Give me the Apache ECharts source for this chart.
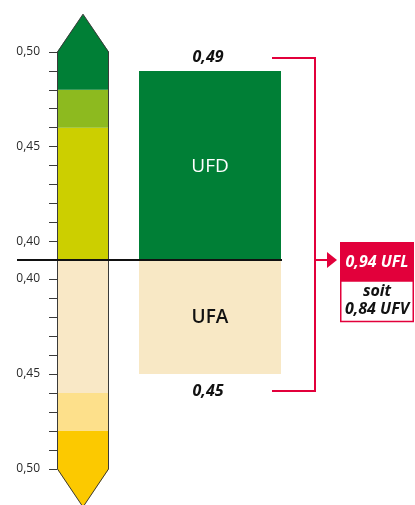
<!DOCTYPE html>
<html><head><meta charset="utf-8">
<script src="https://cdn.jsdelivr.net/npm/echarts@6/dist/echarts.min.js"></script>
<style>html,body{margin:0;padding:0;background:#fff}#c{width:415px;height:505px}</style>
</head><body><div id="c"></div>
<script>
// ---- data ----
const categories = ['Échelle', 'Apport'];
const scaleBase = 0.39;
const scaleMax = 0.50;
const arrowTip = 0.52;
const upperBands = [0.39, 0.46, 0.48, 0.50];   // UFD scale band limits
const lowerBands = [0.39, 0.46, 0.48, 0.50];   // UFA scale band limits
const tickLabelValues = [0.40, 0.45, 0.50];
const barNames = ['UFD', 'UFA'];
const ufdValue = 0.49;
const ufaValue = 0.45;
const totalUFL = 0.94;
const totalUFV = 0.84;

// ---- styles ----
const upperColors = ['#cccf00', '#8dba1f', '#007f36'];
const lowerColors = ['#f9e8c6', '#fde08b', '#fcc900'];
const ufdColor = '#007f36';
const ufaColor = '#f8e8c5';
const red = '#e2003b';
const ARROW_W = 52;
const BAR_W = 142;
const FONT = 'Open Sans';

const fmt = v => v.toFixed(2).replace('.', ',');

function bandData(levels) {
  const out = [];
  for (let i = 0; i < levels.length - 1; i++) out.push([0, levels[i], levels[i + 1], i]);
  return out;
}
function bandRender(colors, levels) {
  return function (params, api) {
    const i = api.value(3);
    const lo = api.coord([api.value(0), api.value(1)]);
    const hi = api.coord([api.value(0), api.value(2)]);
    const x0 = lo[0] - ARROW_W / 2, x1 = lo[0] + ARROW_W / 2;
    let points;
    if (i === levels.length - 2) {
      const tip = api.coord([api.value(0), arrowTip]);
      points = [[x0, lo[1]], [x0, hi[1]], [lo[0], tip[1]], [x1, hi[1]], [x1, lo[1]]];
    } else {
      points = [[x0, lo[1]], [x0, hi[1]], [x1, hi[1]], [x1, lo[1]]];
    }
    return { type: 'polygon', shape: { points }, style: { fill: colors[i], stroke: null } };
  };
}
function outlineRender(params, api) {
  const lo = api.coord([0, scaleBase]);
  const hi = api.coord([0, scaleMax]);
  const tip = api.coord([0, arrowTip]);
  const x0 = Math.round(lo[0] - ARROW_W / 2) + 0.5, x1 = Math.round(lo[0] + ARROW_W / 2) - 0.5;
  return {
    type: 'polyline',
    shape: { points: [[x0, lo[1]], [x0, hi[1]], [lo[0], tip[1]], [x1, hi[1]], [x1, lo[1]]] },
    style: { stroke: '#3a3a3a', lineWidth: 1, fill: null }, z2: 5
  };
}
function barRender(name, color, nameColor, nameWeight, up) {
  return function (params, api) {
    const b = api.coord([api.value(0), scaleBase]);
    const t = api.coord([api.value(0), api.value(1)]);
    const y0 = Math.min(b[1], t[1]), h = Math.abs(b[1] - t[1]);
    const x0 = b[0] - BAR_W / 2;
    const valueY = up ? t[1] - 13 : t[1] + 17;
    return {
      type: 'group',
      children: [
        { type: 'rect', shape: { x: x0, y: y0, width: BAR_W, height: h }, style: { fill: color } },
        { type: 'text', x: b[0], y: y0 + h / 2 + 1, style: { text: name, fill: nameColor,
          font: nameWeight + ' 19px "' + FONT + '"', align: 'center', verticalAlign: 'middle' } },
        { type: 'text', x: b[0] - 2, y: valueY, style: { text: fmt(api.value(1)), fill: '#111',
          font: 'italic bold 16px "' + FONT + '"', align: 'center', verticalAlign: 'middle' } }
      ]
    };
  };
}
function yAxisCfg(gridIndex, inverse) {
  return {
    type: 'value', gridIndex, min: scaleBase, max: scaleMax, interval: 0.01, inverse,
    position: 'left', offset: -37.5,
    axisLine: { show: false }, splitLine: { show: false },
    axisTick: { show: true, length: 8, lineStyle: { color: '#3a3a3a', width: 1 } },
    axisLabel: {
      margin: 17, color: '#2a2a2a', fontSize: 12, fontFamily: FONT,
      formatter: v => tickLabelValues.some(t => Math.abs(t - v) < 1e-6) ? fmt(v) : ''
    }
  };
}

const chart = echarts.init(document.getElementById('c'), null, { renderer: 'canvas' });
chart.setOption({
  animation: false,
  backgroundColor: '#fff',
  grid: [
    { left: 19.5, width: 254, top: 52, height: 208, outerBoundsMode: 'none' },
    { left: 19.5, width: 254, top: 260, height: 209, outerBoundsMode: 'none' }
  ],
  xAxis: [
    { type: 'category', gridIndex: 0, data: categories, show: false },
    { type: 'category', gridIndex: 1, data: categories, show: false }
  ],
  yAxis: [yAxisCfg(0, false), yAxisCfg(1, true)],
  series: [
    { type: 'custom', xAxisIndex: 0, yAxisIndex: 0, data: bandData(upperBands),
      renderItem: bandRender(upperColors, upperBands), encode: { x: 0, y: [1, 2] }, z: 2, clip: false },
    { type: 'custom', xAxisIndex: 1, yAxisIndex: 1, data: bandData(lowerBands),
      renderItem: bandRender(lowerColors, lowerBands), encode: { x: 0, y: [1, 2] }, z: 2, clip: false },
    { type: 'custom', xAxisIndex: 0, yAxisIndex: 0, data: [[0, scaleBase, scaleMax]],
      renderItem: outlineRender, encode: { x: 0, y: [1, 2] }, z: 3, clip: false },
    { type: 'custom', xAxisIndex: 1, yAxisIndex: 1, data: [[0, scaleBase, scaleMax]],
      renderItem: outlineRender, encode: { x: 0, y: [1, 2] }, z: 3, clip: false },
    { type: 'custom', name: barNames[0], xAxisIndex: 0, yAxisIndex: 0, data: [[1, ufdValue]],
      renderItem: barRender(barNames[0], ufdColor, '#fff', 'normal', true), encode: { x: 0, y: 1 }, z: 3, clip: false },
    { type: 'custom', name: barNames[1], xAxisIndex: 1, yAxisIndex: 1, data: [[1, ufaValue]],
      renderItem: barRender(barNames[1], ufaColor, '#111', '600', false), encode: { x: 0, y: 1 }, z: 3, clip: false }
  ]
});

// ---- annotations positioned from the axes ----
const pTop = chart.convertToPixel({ xAxisIndex: 0, yAxisIndex: 0 }, [1, ufdValue]);
const pBase = chart.convertToPixel({ xAxisIndex: 0, yAxisIndex: 0 }, [1, scaleBase]);
const pBot = chart.convertToPixel({ xAxisIndex: 1, yAxisIndex: 1 }, [1, ufaValue]);
const pScale = chart.convertToPixel({ xAxisIndex: 0, yAxisIndex: 0 }, [0, scaleBase]);
const barRight = pTop[0] + BAR_W / 2;
const yB = pBase[1];
const yT = Math.round(pTop[1] - 13);
const yL = Math.round(pBot[1] + 17);
const xb = barRight + 34;
const boxX = xb + 25;
const boxW = 74;
const cx = boxX + boxW / 2;

chart.setOption({
  graphic: [
    { type: 'line', z: 20, shape: { x1: pScale[0] - 66, y1: yB, x2: barRight + 1, y2: yB },
      style: { stroke: '#111', lineWidth: 2 } },
    { type: 'polyline', z: 20, shape: { points: [[barRight - 9, yT], [xb, yT], [xb, yL], [barRight - 9, yL]] },
      style: { stroke: red, lineWidth: 2, fill: null } },
    { type: 'line', z: 20, shape: { x1: xb, y1: yB, x2: xb + 14, y2: yB },
      style: { stroke: red, lineWidth: 2 } },
    { type: 'polygon', z: 20, shape: { points: [[xb + 12, yB - 8], [xb + 22, yB], [xb + 12, yB + 8]] },
      style: { fill: red } },
    { type: 'rect', z: 20, shape: { x: boxX, y: yB - 18, width: boxW, height: 39 },
      style: { fill: red } },
    { type: 'rect', z: 20, shape: { x: boxX + 0.75, y: yB + 21, width: boxW - 1.5, height: 40.5 },
      style: { fill: '#fff', stroke: red, lineWidth: 1.5 } },
    { type: 'text', z: 21, x: cx, y: yB + 2, style: { text: fmt(totalUFL) + ' UFL', fill: '#fff',
      font: 'italic bold 16px "' + FONT + '"', align: 'center', verticalAlign: 'middle' } },
    { type: 'text', z: 21, x: cx, y: yB + 31, style: { text: 'soit', fill: '#111',
      font: 'italic bold 16px "' + FONT + '"', align: 'center', verticalAlign: 'middle' } },
    { type: 'text', z: 21, x: cx, y: yB + 49, style: { text: fmt(totalUFV) + ' UFV', fill: '#111',
      font: 'italic bold 16px "' + FONT + '"', align: 'center', verticalAlign: 'middle' } }
  ]
});
</script></body></html>
